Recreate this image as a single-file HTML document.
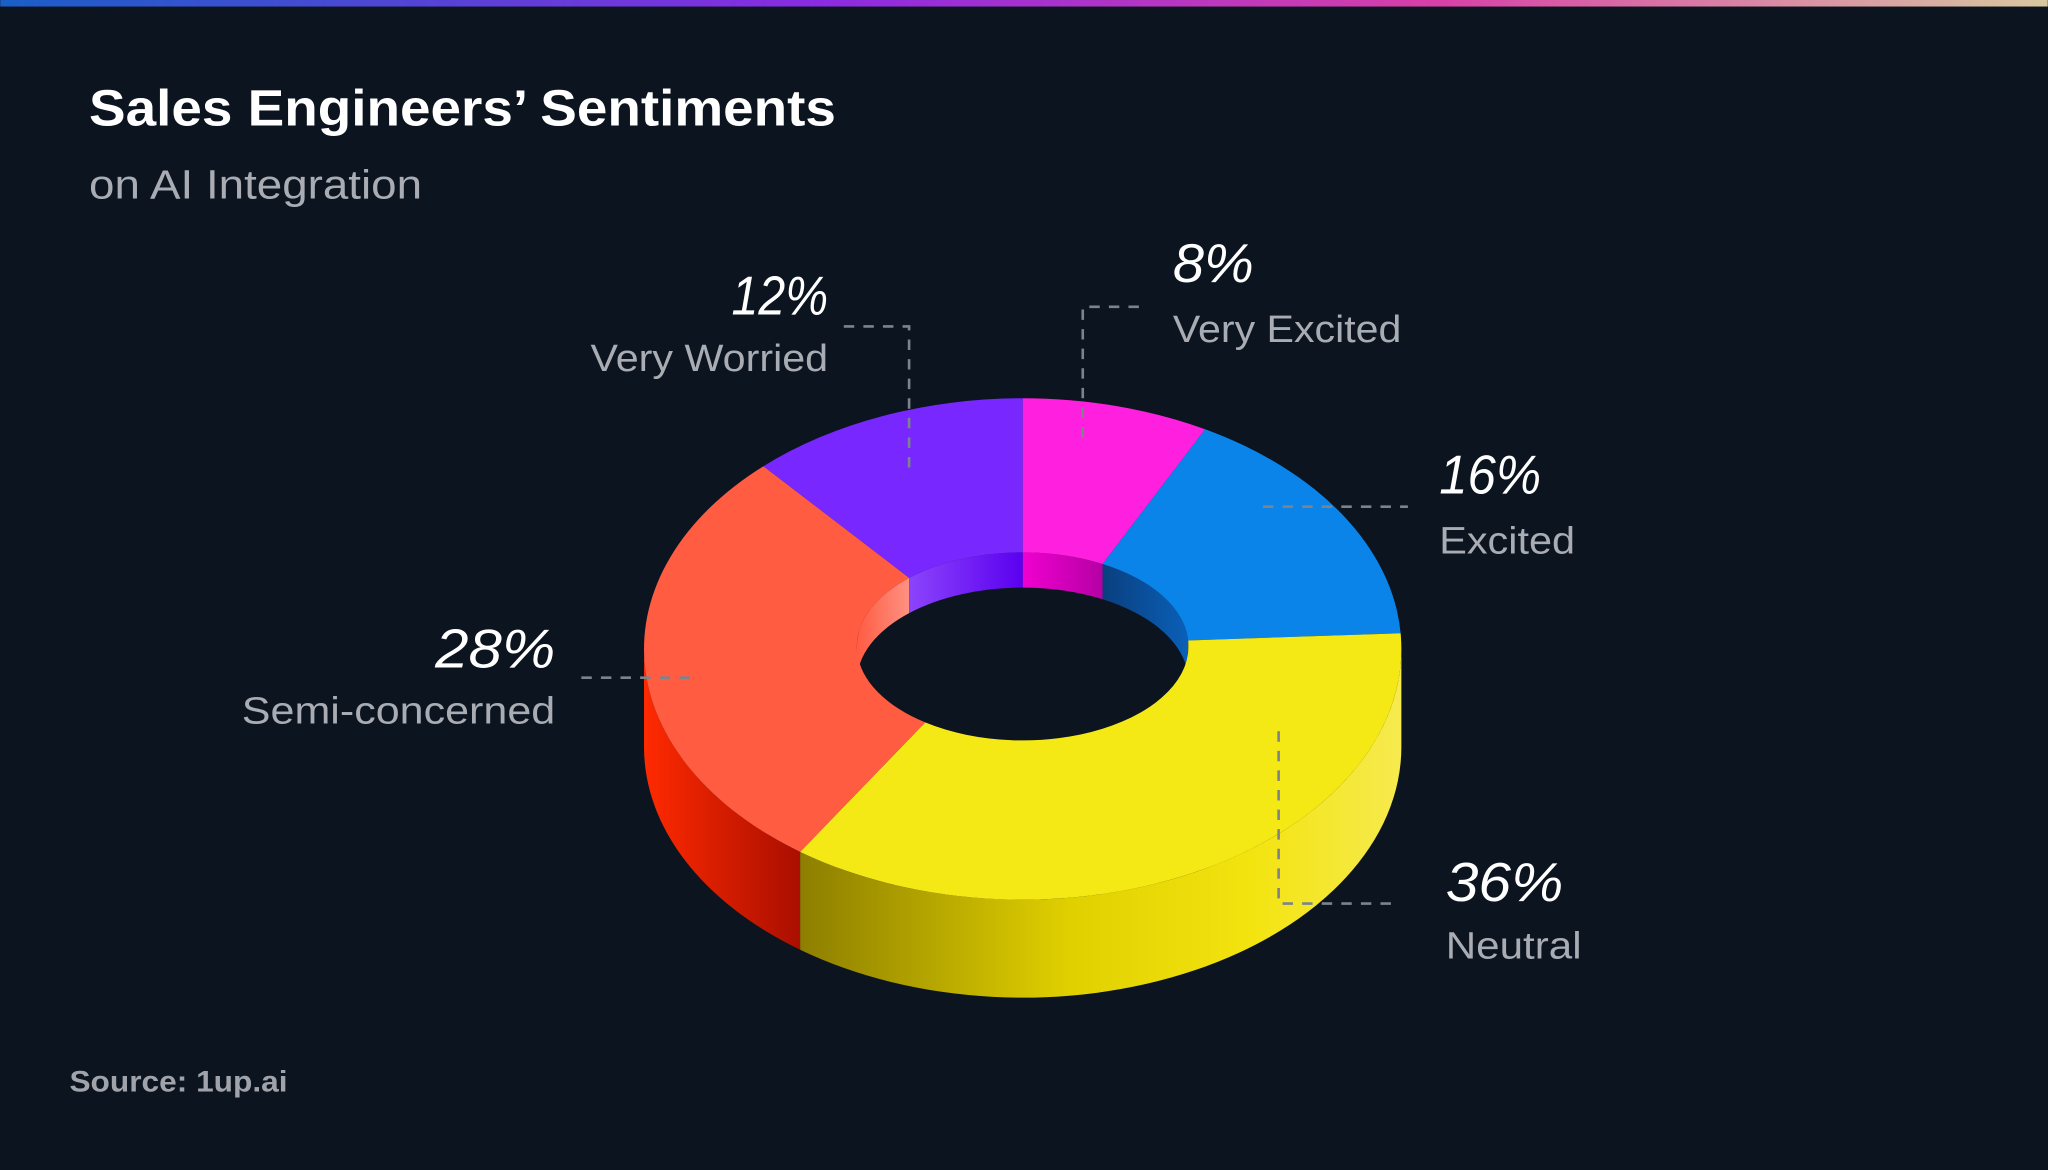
<!DOCTYPE html>
<html><head><meta charset="utf-8"><style>
html,body{margin:0;padding:0;background:#0b141f;}
svg{display:block;}
text{font-family:"Liberation Sans",sans-serif;}
</style></head><body>
<svg id="chart" width="2048" height="1170" viewBox="0 0 1568 896" xmlns="http://www.w3.org/2000/svg">
<defs>
<linearGradient id="topbar" x1="0" x2="1" y1="0" y2="0">
<stop offset="0" stop-color="#1a5fc8"/><stop offset="0.4" stop-color="#8a2be2"/><stop offset="0.7" stop-color="#d83fa8"/><stop offset="1" stop-color="#d8c8a0"/></linearGradient>
<linearGradient id="gYellow" gradientUnits="userSpaceOnUse" x1="610" x2="1075" y1="0" y2="0">
<stop offset="0" stop-color="#8c7d00"/><stop offset="0.45" stop-color="#e0d000"/><stop offset="0.75" stop-color="#f3e410"/><stop offset="1" stop-color="#f6ea50"/></linearGradient>
<linearGradient id="gRed" gradientUnits="userSpaceOnUse" x1="493" x2="615" y1="0" y2="0">
<stop offset="0" stop-color="#ff2a00"/><stop offset="1" stop-color="#a80e00"/></linearGradient>
<linearGradient id="gPurpleIn" gradientUnits="userSpaceOnUse" x1="660" x2="783" y1="0" y2="0">
<stop offset="0" stop-color="#a060ff"/><stop offset="1" stop-color="#5a00f0"/></linearGradient>
<linearGradient id="gRedIn" gradientUnits="userSpaceOnUse" x1="655" x2="695" y1="0" y2="0">
<stop offset="0" stop-color="#ff5a40"/><stop offset="1" stop-color="#ff9080"/></linearGradient>
<linearGradient id="gMagIn" gradientUnits="userSpaceOnUse" x1="783" x2="850" y1="0" y2="0">
<stop offset="0" stop-color="#f000d0"/><stop offset="1" stop-color="#b000a0"/></linearGradient>
<linearGradient id="gBlueIn" gradientUnits="userSpaceOnUse" x1="845" x2="910" y1="0" y2="0">
<stop offset="0" stop-color="#0a3f80"/><stop offset="1" stop-color="#0a60b8"/></linearGradient>
</defs>
<rect x="0" y="0" width="1568" height="896" fill="#0b141f"/>
<rect x="0" y="0" width="1568" height="5" fill="url(#topbar)"/>
<text x="68" y="96" font-size="39" font-weight="bold" fill="#ffffff" textLength="572" lengthAdjust="spacingAndGlyphs">Sales Engineers’ Sentiments</text>
<text x="68" y="152" font-size="31" fill="#a9adb3" textLength="255" lengthAdjust="spacingAndGlyphs">on AI Integration</text>
<text x="53" y="836" font-size="23" font-weight="bold" fill="#a0a4aa" textLength="167" lengthAdjust="spacingAndGlyphs">Source: 1up.ai</text>
<g id="walls"></g>
<g id="tops"></g>
<g id="leaders" stroke="#7d838b" stroke-width="2" stroke-dasharray="8 7" fill="none">
<polyline points="646,250 696,250 696,365"/>
<polyline points="872,235 829,235 829,338"/>
<polyline points="967,388 1078,388"/>
<polyline points="445,519 535,519"/>
<polyline points="979,560 979,692 1070,692"/>
</g>
<g id="labels"></g>
</svg>
<script>
const categories = ["Very Excited", "Excited", "Neutral", "Semi-concerned", "Very Worried"];
const values = [8, 16, 36, 28, 12];
const topColors = ["#ff1fdf", "#0a84e8", "#f4e914", "#ff5c42", "#7828ff"];
const outerWallFills = ["#c010b0", "#0a5fb0", "url(#gYellow)", "url(#gRed)", "#5a10d0"];
const innerWallFills = ["url(#gMagIn)", "url(#gBlueIn)", "#b8a800", "url(#gRedIn)", "url(#gPurpleIn)"];

const NS = "http://www.w3.org/2000/svg";
const cx = 783, cy = 497, rx = 290, ry = 192, depth = 75;
const irx = 127, iry = 72, icy = 495, idepth = 27;
const total = values.reduce((a, b) => a + b, 0);
const OUT = {rx: rx, ry: ry, cy: cy, d: depth};
const INN = {rx: irx, ry: iry, cy: icy, d: idepth};
function pt(E, deg, dy) {
  const t = deg * Math.PI / 180;
  return [cx + E.rx * Math.sin(t), E.cy - E.ry * Math.cos(t) + (dy || 0)];
}
function arc(E, a0, a1, dy, sweep) {
  const p = pt(E, a1, dy);
  const large = Math.abs(a1 - a0) > 180 ? 1 : 0;
  return "A" + E.rx + " " + E.ry + " 0 " + large + " " + sweep + " " + p[0] + " " + p[1];
}
function wall(E, b0, b1) {
  const p0 = pt(E, b0, 0), p2 = pt(E, b1, E.d);
  return "M" + p0 + " " + arc(E, b0, b1, 0, 1) + " L" + p2 + " " + arc(E, b1, b0, E.d, 0) + " Z";
}
const walls = document.getElementById("walls");
const tops = document.getElementById("tops");
let acc = 0;
const slices = [];
values.forEach((v, i) => {
  const a0 = acc / total * 360, a1 = (acc + v) / total * 360;
  acc += v;
  slices.push([a0, a1]);
  const o0 = Math.max(a0, 90), o1 = Math.min(a1, 270);
  if (o1 > o0) {
    const p = document.createElementNS(NS, "path");
    p.setAttribute("d", wall(OUT, o0, o1));
    p.setAttribute("fill", outerWallFills[i]);
    
    
    walls.appendChild(p);
  }
  [[-90, 90], [270, 450]].forEach(rg => {
    const s0 = Math.max(a0, rg[0]), s1 = Math.min(a1, rg[1]);
    if (s1 > s0) {
      const p = document.createElementNS(NS, "path");
      p.setAttribute("d", wall(INN, s0, s1));
      p.setAttribute("fill", innerWallFills[i]);
      
      
      walls.appendChild(p);
    }
  });
});
slices.forEach((s, i) => {
  const [a0, a1] = s;
  const p0 = pt(OUT, a0), p1 = pt(INN, a1);
  const d = "M" + p0 + " " + arc(OUT, a0, a1, 0, 1) + " L" + p1 + " " + arc(INN, a1, a0, 0, 0) + " Z";
  const p = document.createElementNS(NS, "path");
  p.setAttribute("d", d);
  p.setAttribute("fill", topColors[i]);
  
  
  tops.appendChild(p);
});
const labelPos = [
  {x: 898, y1: 216, y2: 262, anchor: "start", w1: 62, w2: 175},
  {x: 1102, y1: 378, y2: 424, anchor: "start", w1: 78, w2: 104},
  {x: 1107, y1: 690, y2: 734, anchor: "start", w1: 90, w2: 104},
  {x: 425, y1: 511, y2: 554, anchor: "end", w1: 92, w2: 240},
  {x: 634, y1: 241, y2: 284, anchor: "end", w1: 74, w2: 182}
];
const lg = document.getElementById("labels");
categories.forEach((c, i) => {
  const lp = labelPos[i];
  const slug = c.toLowerCase().replace(/ /g, '-');
  const t1 = document.createElementNS(NS, "text");
  t1.setAttribute("x", lp.x); t1.setAttribute("y", lp.y1);
  t1.setAttribute("text-anchor", lp.anchor);
  t1.setAttribute("font-size", "42"); t1.setAttribute("font-style", "italic");
  t1.setAttribute("fill", "#ffffff");
  t1.setAttribute("textLength", lp.w1);
  t1.setAttribute("lengthAdjust", "spacingAndGlyphs");
  t1.textContent = values[i] + "%";
  
  
  lg.appendChild(t1);
  const t2 = document.createElementNS(NS, "text");
  t2.setAttribute("x", lp.x); t2.setAttribute("y", lp.y2);
  t2.setAttribute("text-anchor", lp.anchor);
  t2.setAttribute("font-size", "29");
  t2.setAttribute("fill", "#a9adb3");
  t2.setAttribute("textLength", lp.w2);
  t2.setAttribute("lengthAdjust", "spacingAndGlyphs");
  t2.textContent = c;
  
  
  lg.appendChild(t2);
});
</script>
</body></html>
